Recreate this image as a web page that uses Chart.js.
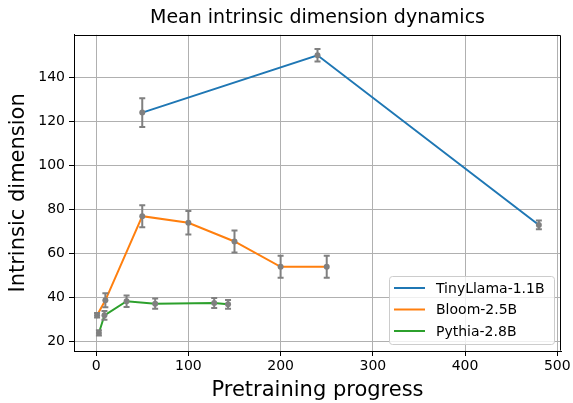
<!DOCTYPE html>
<html>
<head>
<meta charset="utf-8">
<script src="https://cdn.jsdelivr.net/npm/chart.js@4.4.0/dist/chart.umd.min.js"></script>
<style>
  html, body { margin: 0; padding: 0; background: #fff; }
  #wrap { width: 573px; height: 403px; }
</style>
</head>
<body>
<div id="wrap"><canvas id="chart" width="573" height="403"></canvas></div>
<script>
// values
const TINY_X = [50, 240, 480];
const TINY_Y = [124, 150, 73];
const TINY_ERR = [6.5, 2.8, 2];

const BLOOM_X = [1, 10, 50, 100, 150, 200, 250];
const BLOOM_Y = [32, 38.8, 77, 74, 65.5, 54, 54];
const BLOOM_ERR = [1, 3.2, 5, 5.3, 5, 5, 5];

const PYTHIA_X = [3, 9, 33, 64, 128, 143];
const PYTHIA_Y = [24, 32, 38.4, 37.3, 37.6, 37];
const PYTHIA_ERR = [1.2, 2, 2.6, 2.3, 2.3, 2];

const SERIES_LABELS = ["TinyLlama-1.1B", "Bloom-2.5B", "Pythia-2.8B"];
const X_TICKS = [0, 100, 200, 300, 400, 500];
const Y_TICKS = [20, 40, 60, 80, 100, 120, 140];

const FONT = "'DejaVu Sans', sans-serif";
const ERR_COLOR = "#808080";

Chart.defaults.font.family = FONT;
Chart.defaults.color = "#000";

const pts = (xs, ys) => xs.map((x, i) => ({ x, y: ys[i] }));

function makeSet(label, xs, ys, errs, color) {
  return {
    label,
    data: pts(xs, ys),
    errors: errs,
    borderColor: color,
    backgroundColor: color,
    borderWidth: 2,
    pointRadius: 0,
    tension: 0
  };
}

// gray error bars with caps and a dot marker, like plt.errorbar(fmt='o')
const errorBars = {
  id: "errorBars",
  afterDatasetsDraw(chart) {
    const { ctx, scales: { x, y } } = chart;
    ctx.save();
    ctx.strokeStyle = ERR_COLOR;
    ctx.fillStyle = ERR_COLOR;
    ctx.lineWidth = 2;
    chart.data.datasets.forEach(ds => {
      ds.data.forEach((p, i) => {
        const px = x.getPixelForValue(p.x);
        const py = y.getPixelForValue(p.y);
        const t = y.getPixelForValue(p.y + ds.errors[i]);
        const b = y.getPixelForValue(p.y - ds.errors[i]);
        ctx.beginPath();
        ctx.moveTo(px, t); ctx.lineTo(px, b);
        ctx.moveTo(px - 3, t); ctx.lineTo(px + 3, t);
        ctx.moveTo(px - 3, b); ctx.lineTo(px + 3, b);
        ctx.stroke();
        ctx.beginPath();
        ctx.arc(px, py, 3, 0, Math.PI * 2);
        ctx.fill();
      });
    });
    ctx.restore();
  }
};

// top/right spines and the matplotlib-style legend in the lower right
const frameAndLegend = {
  id: "frameAndLegend",
  afterDraw(chart) {
    const { ctx, chartArea: a } = chart;
    ctx.save();
    ctx.strokeStyle = "#000";
    ctx.lineWidth = 1;
    ctx.beginPath();
    ctx.moveTo(Math.round(a.left) + 0.5, Math.round(a.top) + 0.5);
    ctx.lineTo(Math.round(a.right) - 0.5, Math.round(a.top) + 0.5);
    ctx.lineTo(Math.round(a.right) - 0.5, Math.round(a.bottom) - 0.5);
    ctx.stroke();

    const w = 165, h = 68;
    const bx = a.right - 7 - w, by = a.bottom - 7 - h;
    ctx.beginPath();
    ctx.roundRect(bx + 0.5, by + 0.5, w, h, 3);
    ctx.fillStyle = "rgba(255,255,255,0.8)";
    ctx.fill();
    ctx.strokeStyle = "#cccccc";
    ctx.stroke();

    ctx.font = "14px " + FONT;
    ctx.textBaseline = "middle";
    chart.data.datasets.forEach((ds, i) => {
      const ry = by + 12 + i * 21.5;
      ctx.strokeStyle = ds.borderColor;
      ctx.lineWidth = 2;
      ctx.beginPath();
      ctx.moveTo(bx + 5, ry); ctx.lineTo(bx + 36, ry);
      ctx.stroke();
      ctx.fillStyle = "#000";
      ctx.fillText(ds.label, bx + 47, ry + 1);
    });
    ctx.restore();
  }
};

new Chart(document.getElementById("chart"), {
  type: "line",
  data: {
    datasets: [
      makeSet(SERIES_LABELS[0], TINY_X, TINY_Y, TINY_ERR, "#1f77b4"),
      makeSet(SERIES_LABELS[1], BLOOM_X, BLOOM_Y, BLOOM_ERR, "#ff7f0e"),
      makeSet(SERIES_LABELS[2], PYTHIA_X, PYTHIA_Y, PYTHIA_ERR, "#2ca02c")
    ]
  },
  options: {
    responsive: false,
    animation: false,
    devicePixelRatio: 1,
    layout: { padding: { left: 0, right: 12, top: 0, bottom: 0 } },
    plugins: {
      legend: { display: false },
      tooltip: { enabled: false },
      title: {
        display: true,
        text: "Mean intrinsic dimension dynamics",
        fullSize: false,
        color: "#000",
        font: { size: 19, weight: "normal" },
        padding: { top: 7, bottom: 5 }
      }
    },
    scales: {
      x: {
        type: "linear",
        min: -24,
        max: 504,
        afterBuildTicks: s => { s.ticks = X_TICKS.map(v => ({ value: v })); },
        afterFit: s => { s.height = 52; },
        ticks: { font: { size: 14 }, color: "#000", padding: 2, maxRotation: 0 },
        grid: { color: "#b0b0b0", tickColor: "#000", tickLength: 5, lineWidth: 1 },
        border: { display: true, color: "#000", width: 1 },
        title: {
          display: true,
          text: "Pretraining progress",
          color: "#000",
          font: { size: 21 },
          padding: { top: 0, bottom: 0 }
        }
      },
      y: {
        min: 15.8,
        max: 159.3,
        afterBuildTicks: s => { s.ticks = Y_TICKS.map(v => ({ value: v })); },
        afterFit: s => { s.width = 74; },
        ticks: { font: { size: 14 }, color: "#000", padding: 4 },
        grid: { color: "#b0b0b0", tickColor: "#000", tickLength: 5, lineWidth: 1 },
        border: { display: true, color: "#000", width: 1 },
        title: {
          display: true,
          text: "Intrinsic dimension",
          color: "#000",
          font: { size: 21 },
          padding: { top: 6, bottom: 0 }
        }
      }
    }
  },
  plugins: [errorBars, frameAndLegend]
});
</script>
</body>
</html>
